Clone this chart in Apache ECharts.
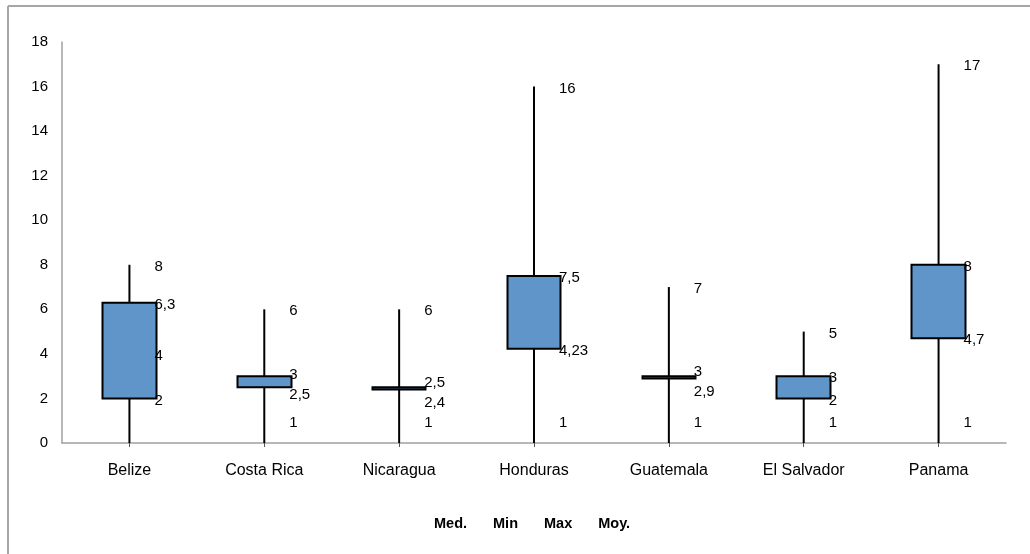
<!DOCTYPE html>
<html>
<head>
<meta charset="utf-8">
<script src="https://cdn.jsdelivr.net/npm/echarts@6/dist/echarts.min.js"></script>
<style>html,body{margin:0;padding:0;background:#fff}#c{width:1030px;height:554px}</style>
</head>
<body>
<div id="c"></div>
<script>
const categories = ['Belize', 'Costa Rica', 'Nicaragua', 'Honduras', 'Guatemala', 'El Salvador', 'Panama'];
const med = [2, 2.5, 2.4, 4.23, 2.9, 2, 4.7];
const minV = [4, 1, 1, 1, 1, 1, 1];
const maxV = [8, 6, 6, 16, 7, 5, 17];
const moy = [6.3, 3, 2.5, 7.5, 3, 3, 8];
const yTicks = [0, 2, 4, 6, 8, 10, 12, 14, 16, 18];

const fmt = v => String(v).replace('.', ',');
const candle = categories.map((c, i) => {
  const lo = Math.min(med[i], moy[i]), hi = Math.max(med[i], moy[i]);
  return [med[i], moy[i], lo, hi];
});
const FONT = 'Liberation Sans, Arial, sans-serif';
const PX_PER_UNIT = (554 - 111 - 42) / 18;
const SEP = 20;
function boxShift(i, isMed) {
  const gapPx = Math.abs(moy[i] - med[i]) * PX_PER_UNIT;
  const need = Math.max(0, SEP - gapPx);
  if (need === 0) return 2;
  const mine = isMed ? med[i] : moy[i];
  const other = isMed ? moy[i] : med[i];
  return mine < other ? 2 + need * 0.65 : 2 - need * 0.35;
}
function labelSeries(name, arr, shiftFn) {
  return {
    name: name, type: 'scatter', data: arr, symbolSize: 0.01,
    itemStyle: { color: '#000', opacity: 1 },
    z: 10,
    label: { show: true, position: 'right', distance: 25, color: '#000', fontSize: 15, fontFamily: FONT,
      formatter: p => fmt(p.value) },
    labelLayout: shiftFn ? (p => ({ dy: shiftFn(p.dataIndex) })) : { dy: 2 }
  };
}
const chart = echarts.init(document.getElementById('c'));
chart.setOption({
  animation: false,
  backgroundColor: '#fff',
  graphic: [
    { type: 'line', shape: { x1: 8, y1: 6, x2: 1030, y2: 6 }, style: { stroke: '#a6a6a6', lineWidth: 2 } },
    { type: 'line', shape: { x1: 8, y1: 6, x2: 8, y2: 554 }, style: { stroke: '#a6a6a6', lineWidth: 2 } }
  ],
  grid: { left: 62, right: 24, top: 42, bottom: 111 },
  legend: {
    data: ['Med.', 'Min', 'Max', 'Moy.'], left: 424, top: 511, icon: 'none', itemWidth: 0, itemHeight: 0,
    itemGap: 21, textStyle: { fontWeight: 'bold', fontSize: 14.5, fontFamily: FONT, color: '#000' }
  },
  xAxis: {
    type: 'category', data: categories,
    axisLine: { lineStyle: { color: '#a0a0a0', width: 1.5 } },
    axisTick: { show: true, alignWithLabel: true, length: 4, lineStyle: { color: '#555' } },
    axisLabel: { color: '#000', fontSize: 16, fontFamily: FONT, margin: 20 }
  },
  yAxis: {
    type: 'value', min: 0, max: 18, interval: 2,
    axisLine: { show: true, lineStyle: { color: '#a0a0a0', width: 1.5 } },
    axisTick: { show: false },
    splitLine: { show: false },
    axisLabel: { color: '#000', fontSize: 15, fontFamily: FONT, margin: 14,
      formatter: v => yTicks.includes(v) ? String(v) : '' }
  },
  series: [
    { name: 'line', type: 'bar', data: maxV, barWidth: 2, itemStyle: { color: '#000' }, z: 1, silent: true },
    { name: 'box', type: 'candlestick', data: candle, barWidth: 54, z: 5,
      itemStyle: { color: '#5f95c8', color0: '#5f95c8', borderColor: '#000', borderColor0: '#000', borderWidth: 2 } },
    labelSeries('Med.', med, i => boxShift(i, true)),
    labelSeries('Min', minV),
    labelSeries('Max', maxV),
    labelSeries('Moy.', moy, i => boxShift(i, false))
  ]
});
</script>
</body>
</html>
